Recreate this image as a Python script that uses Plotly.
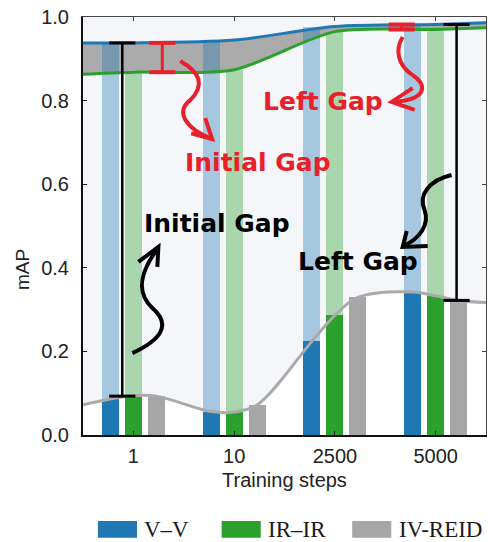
import plotly.graph_objects as go

# ---------------------------------------------------------------- data
steps = ["1", "10", "2500", "5000"]

# single-modality baselines (upper curves), at each training step
vv_map = [0.938, 0.945, 0.977, 0.982]
irir_map = [0.868, 0.874, 0.965, 0.970]
# same curves at the left / right border of the plot
vv_edges = [0.938, 0.986]
irir_edges = [0.863, 0.974]

# cross-modality IV-REID level, read at the V-V, IR-IR and IV-REID bar slots
vv_under = [0.086, 0.056, 0.224, 0.342]
irir_under = [0.094, 0.055, 0.286, 0.333]
iv_reid = [0.093, 0.072, 0.329, 0.322]
iv_edges = [0.072, 0.317]

# ---------------------------------------------------------------- styling
BLUE, GREEN, GRAY = "#1f77b4", "#2ca02c", "#a6a6a6"
BLUE_LIGHT, GREEN_LIGHT = "rgba(31,119,180,0.37)", "rgba(44,160,44,0.37)"
BAND = "#ababab"
RED = "#e8202a"
BG = "#f4f6f9"
DX, BW = 0.228, 0.17
X_RANGE = [-0.5, 3.5]

idx = list(range(len(steps)))
cx = [X_RANGE[0]] + [i + d for i in idx for d in (-DX, 0, DX)] + [X_RANGE[1]]
cy = [iv_edges[0]] + [v for t in zip(vv_under, irir_under, iv_reid) for v in t] + [iv_edges[1]]
lx = [X_RANGE[0]] + idx + [X_RANGE[1]]
vv_y = [vv_edges[0]] + vv_map + [vv_edges[1]]
ir_y = [irir_edges[0]] + irir_map + [irir_edges[1]]
spl = dict(shape="spline", smoothing=1)
spl_top = dict(shape="spline", smoothing=0.8)

fig = go.Figure()

# layer 1: white area below the IV-REID curve, gray gap band between baselines
fig.add_trace(go.Scatter(x=cx, y=cy, mode="lines", line=dict(width=0, **spl),
                         fill="tozeroy", fillcolor="white", hoverinfo="skip"))
fig.add_trace(go.Scatter(x=lx, y=vv_y, mode="lines", line=dict(width=0, **spl_top),
                         hoverinfo="skip"))
fig.add_trace(go.Scatter(x=lx, y=ir_y, mode="lines", line=dict(width=0, **spl_top),
                         fill="tonexty", fillcolor=BAND, hoverinfo="skip"))

# layer 2: bars (solid part up to IV-REID level, pale part up to the baseline)
bx_v = [i - DX for i in idx]
bx_i = [i for i in idx]
bx_g = [i + DX for i in idx]
fig.add_trace(go.Bar(x=bx_v, y=vv_under, width=BW, marker=dict(color=BLUE, line_width=0),
                     xaxis="x2", yaxis="y2"))
fig.add_trace(go.Bar(x=bx_v, y=[t - b for t, b in zip(vv_map, vv_under)], base=vv_under,
                     width=BW, marker=dict(color=BLUE_LIGHT, line_width=0),
                     xaxis="x2", yaxis="y2"))
fig.add_trace(go.Bar(x=bx_i, y=irir_under, width=BW, marker=dict(color=GREEN, line_width=0),
                     xaxis="x2", yaxis="y2"))
fig.add_trace(go.Bar(x=bx_i, y=[t - b for t, b in zip(irir_map, irir_under)], base=irir_under,
                     width=BW, marker=dict(color=GREEN_LIGHT, line_width=0),
                     xaxis="x2", yaxis="y2"))
fig.add_trace(go.Bar(x=bx_g, y=iv_reid, width=BW, marker=dict(color=GRAY, line_width=0),
                     xaxis="x2", yaxis="y2"))

# layer 3: curves
fig.add_trace(go.Scatter(x=cx, y=cy, mode="lines", line=dict(color="#aaaaaa", width=3, **spl),
                         xaxis="x3", yaxis="y3"))
fig.add_trace(go.Scatter(x=lx, y=ir_y, mode="lines", line=dict(color=GREEN, width=3, **spl_top),
                         xaxis="x3", yaxis="y3"))
fig.add_trace(go.Scatter(x=lx, y=vv_y, mode="lines", line=dict(color=BLUE, width=3, **spl_top),
                         xaxis="x3", yaxis="y3"))

shapes = []


def ibeam(x, lo, hi, color, w, capw, half=0.13):
    shapes.append(dict(type="line", x0=x, x1=x, y0=lo, y1=hi, xref="x", yref="y",
                       line=dict(color=color, width=w)))
    for yy in (lo, hi):
        shapes.append(dict(type="line", x0=x - half, x1=x + half, y0=yy, y1=yy,
                           xref="x", yref="y", line=dict(color=color, width=capw)))


ibeam(-0.11, iv_reid[0], vv_map[0], "black", 2.5, 3)
ibeam(3.208, iv_reid[3], vv_map[3], "black", 2.5, 3)
ibeam(0.287, irir_map[0], vv_map[0], RED, 3, 4)
ibeam(2.663, irir_map[3], vv_map[3], RED, 3, 4)


def squiggle(path, head, color):
    shapes.append(dict(type="path", path=path, xref="x", yref="y",
                       line=dict(color=color, width=4)))
    shapes.append(dict(type="path", path=head, xref="x", yref="y",
                       line=dict(color=color, width=4)))


squiggle("M 0.465,0.895 C 0.663,0.868 0.713,0.837 0.564,0.801 "
         "C 0.416,0.773 0.515,0.734 0.782,0.708",
         "M 0.574,0.722 L 0.782,0.708 L 0.713,0.758", RED)
squiggle("M 2.673,0.952 C 2.594,0.921 2.624,0.885 2.772,0.861 "
         "C 2.921,0.837 2.921,0.801 2.564,0.797",
         "M 2.772,0.830 L 2.564,0.797 L 2.792,0.778", RED)
squiggle("M -0.010,0.196 C 0.267,0.227 0.386,0.263 0.188,0.304 "
         "C 0.020,0.342 0.069,0.390 0.238,0.445",
         "M 0.050,0.414 L 0.248,0.450 L 0.238,0.402", "black")
squiggle("M 3.158,0.622 C 2.941,0.610 2.822,0.574 2.891,0.538 "
         "C 2.941,0.502 2.842,0.471 2.683,0.452",
         "M 2.713,0.488 L 2.673,0.450 L 2.921,0.452", "black")

hand = dict(family="DejaVu Sans", size=25, weight="bold")
annotations = [
    dict(x=1.238, y=0.653, text="Initial Gap", font=dict(color=RED, **hand)),
    dict(x=1.881, y=0.797, text="Left Gap", font=dict(color=RED, **hand)),
    dict(x=0.832, y=0.507, text="Initial Gap", font=dict(color="black", **hand)),
    dict(x=2.228, y=0.414, text="Left Gap", font=dict(color="black", **hand)),
]
for a in annotations:
    a.update(xref="x", yref="y", showarrow=False, xanchor="center", yanchor="middle")

axis_font = dict(family="Liberation Sans", size=20, color="#222")
annotations += [
    dict(x=0.5, y=-0.108, xref="paper", yref="paper", text="Training steps",
         showarrow=False, font=axis_font, xanchor="center", yanchor="middle"),
    dict(x=-0.1485, y=0.395, xref="paper", yref="paper", text="mAP", textangle=-90,
         showarrow=False, font=dict(family="Liberation Sans", size=19, color="#222"),
         xanchor="center", yanchor="middle"),
]

# legend drawn as swatches + serif labels below the axes
legend_items = [("V\u2013V", BLUE, 0.037), ("IR\u2013IR", GREEN, 0.344), ("IV-REID", GRAY, 0.668)]
for label, color, x0 in legend_items:
    shapes.append(dict(type="rect", xref="paper", yref="paper", x0=x0, x1=x0 + 0.097,
                       y0=-0.246, y1=-0.206, fillcolor=color, line=dict(color=color, width=0)))
    annotations.append(dict(x=x0 + 0.11, y=-0.226, xref="paper", yref="paper", text=label,
                            showarrow=False, xanchor="left", yanchor="middle",
                            font=dict(family="Liberation Serif", size=23, color="#1a1a1a")))

tickv = [0, 0.2, 0.4, 0.6, 0.8, 1.0]
fig.update_layout(
    width=488, height=542,
    margin=dict(l=83, r=2, t=17, b=107),
    plot_bgcolor=BG, paper_bgcolor="white",
    showlegend=False, barmode="overlay", bargap=0,
    xaxis=dict(range=X_RANGE, tickvals=idx, ticktext=steps, ticks="inside", ticklen=4,
               tickcolor="#222", showline=True, linecolor="#111", linewidth=2,
               showgrid=False, zeroline=False, tickfont=axis_font, ticklabelstandoff=2),
    yaxis=dict(range=[0, 1], tickvals=tickv, tickformat=".1f", ticks="inside", ticklen=4,
               tickcolor="#222", showline=True, linecolor="#111", linewidth=2,
               showgrid=False, zeroline=False, tickfont=axis_font, ticklabelstandoff=8),
    xaxis2=dict(range=X_RANGE, overlaying="x", visible=False),
    yaxis2=dict(range=[0, 1], overlaying="y", visible=False),
    xaxis3=dict(range=X_RANGE, overlaying="x", side="top", tickvals=idx, ticks="inside",
                ticklen=4, tickcolor="#444", showticklabels=False, showline=True,
                linecolor="#444", linewidth=1, showgrid=False, zeroline=False),
    yaxis3=dict(range=[0, 1], overlaying="y", side="right", tickvals=tickv, ticks="inside",
                ticklen=4, tickcolor="#444", showticklabels=False, showline=True,
                linecolor="#444", linewidth=1, showgrid=False, zeroline=False),
    shapes=shapes, annotations=annotations,
)

fig.write_html("out.html")
